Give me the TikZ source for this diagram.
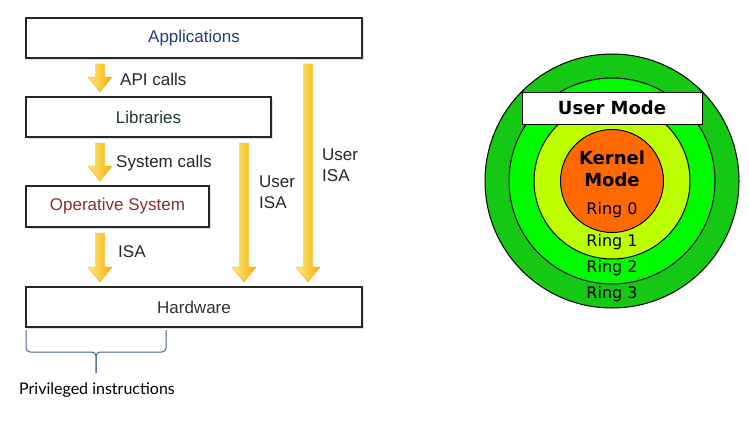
\documentclass[tikz,border=0pt]{standalone}
\usepackage{fontspec}
\setmainfont{Liberation Sans}
\newfontfamily\ringfont{DejaVu Sans}
\newfontfamily\notefont{Lato}
\usetikzlibrary{positioning,calc,shadows}

\definecolor{appblue}{RGB}{31,62,122}
\definecolor{libgreen}{RGB}{27,59,46}
\definecolor{osred}{RGB}{139,46,46}
\definecolor{hwgray}{RGB}{51,51,51}
\definecolor{arrowlight}{RGB}{255,232,130}
\definecolor{arrowdark}{RGB}{245,175,0}
\definecolor{bracecol}{RGB}{70,95,150}
\definecolor{ringthree}{RGB}{20,200,20}
\definecolor{ringtwo}{RGB}{0,250,0}
\definecolor{ringone}{RGB}{190,255,0}
\definecolor{kernel}{RGB}{255,106,0}

% fat yellow arrow: x position, node above, node below
\newcommand\fatarrow[3]{%
  \shade[fatarrow]
    ($(#2.south -| #1,0)+(-4.5,6)$) -- ($(#2.south -| #1,0)+(4.5,6)$)
    -- ($(#3.north -| #1,0)+(4.5,-20)$) -- ($(#3.north -| #1,0)+(12,-20)$)
    -- ($(#3.north -| #1,0)+(0,-5)$)
    -- ($(#3.north -| #1,0)+(-12,-20)$) -- ($(#3.north -| #1,0)+(-4.5,-20)$) -- cycle;}

\begin{document}
\begin{tikzpicture}[x=1pt, y=-1pt,
  layer/.style={draw=black!85, line width=1.2pt, fill=white, anchor=north west,
                minimum height=40pt, inner sep=0pt, outer sep=0pt,
                font=\fontsize{17}{19}\selectfont,
                drop shadow={shadow xshift=2pt, shadow yshift=-2pt, opacity=0.25}},
  lbl/.style={anchor=west, align=left, text=black!85, inner sep=0pt,
              font=\fontsize{17}{21}\selectfont},
  fatarrow/.style={left color=arrowlight, right color=arrowdark,
                   draw=arrowdark!90!orange, line width=0.4pt},
  brace/.style={draw=bracecol, line width=1pt, rounded corners=4pt},
  ring/.style={circle, draw=black, line width=1pt, inner sep=0pt},
  ringlbl/.style={inner sep=0pt, font=\ringfont\fontsize{16}{19}\selectfont},
  modebox/.style={draw=black, line width=1pt, fill=white, minimum width=180pt,
                  minimum height=32pt, inner sep=0pt,
                  font=\ringfont\bfseries\fontsize{18}{21}\selectfont}
]
\useasboundingbox (0,0) rectangle (749,428);

% layers
\node[layer, minimum width=336pt, text=appblue] (apps) at (26,18) {Applications};
\node[layer, minimum width=245pt, text=libgreen] (libs) at ([yshift=-39pt]apps.south west) {Libraries};
\node[layer, minimum width=183pt, text=osred, minimum height=41pt] (os) at ([yshift=-49pt]libs.south west) {Operative System};
\node[layer, minimum width=336pt, text=hwgray] (hw) at ([yshift=-60pt]os.south west) {Hardware};

% calls
\fatarrow{100}{apps}{libs}
\fatarrow{100}{libs}{os}
\fatarrow{100}{os}{hw}
\fatarrow{244}{libs}{hw}
\fatarrow{308}{apps}{hw}

\node[lbl] (api) at (120,79) {API calls};
\node[lbl] (sys) at (116,163) {System calls};
\node[lbl] (isa) at (118,252) {ISA};
\node[lbl] (uisa1) at (259,192) {User\\ISA};
\node[lbl] (uisa2) at (322,165) {User\\ISA};

% privileged part
\coordinate (bl) at ([yshift=-3pt]hw.south west);
\coordinate (br) at (bl -| 166,0);
\coordinate (tip) at ($(bl)!0.5!(br)+(0,43)$);
\draw[brace] (bl) -- ++(0,22) -| (tip);
\draw[brace] (br) -- ++(0,22) -| (tip);
\node[font=\notefont\fontsize{16}{19}\selectfont, text=black] (priv) at (97,390) {Privileged instructions};

% protection rings
\node[ring, fill=ringthree, minimum size=254pt] (r3) at (612,181) {};
\node[ring, fill=ringtwo, minimum size=206pt] (r2) at (r3.center) {};
\node[ring, fill=ringone, minimum size=156pt] (r1) at (r3.center) {};
\node[ring, fill=kernel, minimum size=103pt] (r0) at (r3.center) {};
\node[modebox] (user) at (612,108) {User Mode};
\node[ringlbl, align=center, font=\ringfont\bfseries\fontsize{18}{22}\selectfont] (kmode) at (612,169) {Kernel\\Mode};
\node[ringlbl] (ring0) at (612,210) {Ring 0};
\node[ringlbl] (ring1) at (612,242) {Ring 1};
\node[ringlbl] (ring2) at (612,268) {Ring 2};
\node[ringlbl] (ring3) at (612,294) {Ring 3};
\end{tikzpicture}
\end{document}
